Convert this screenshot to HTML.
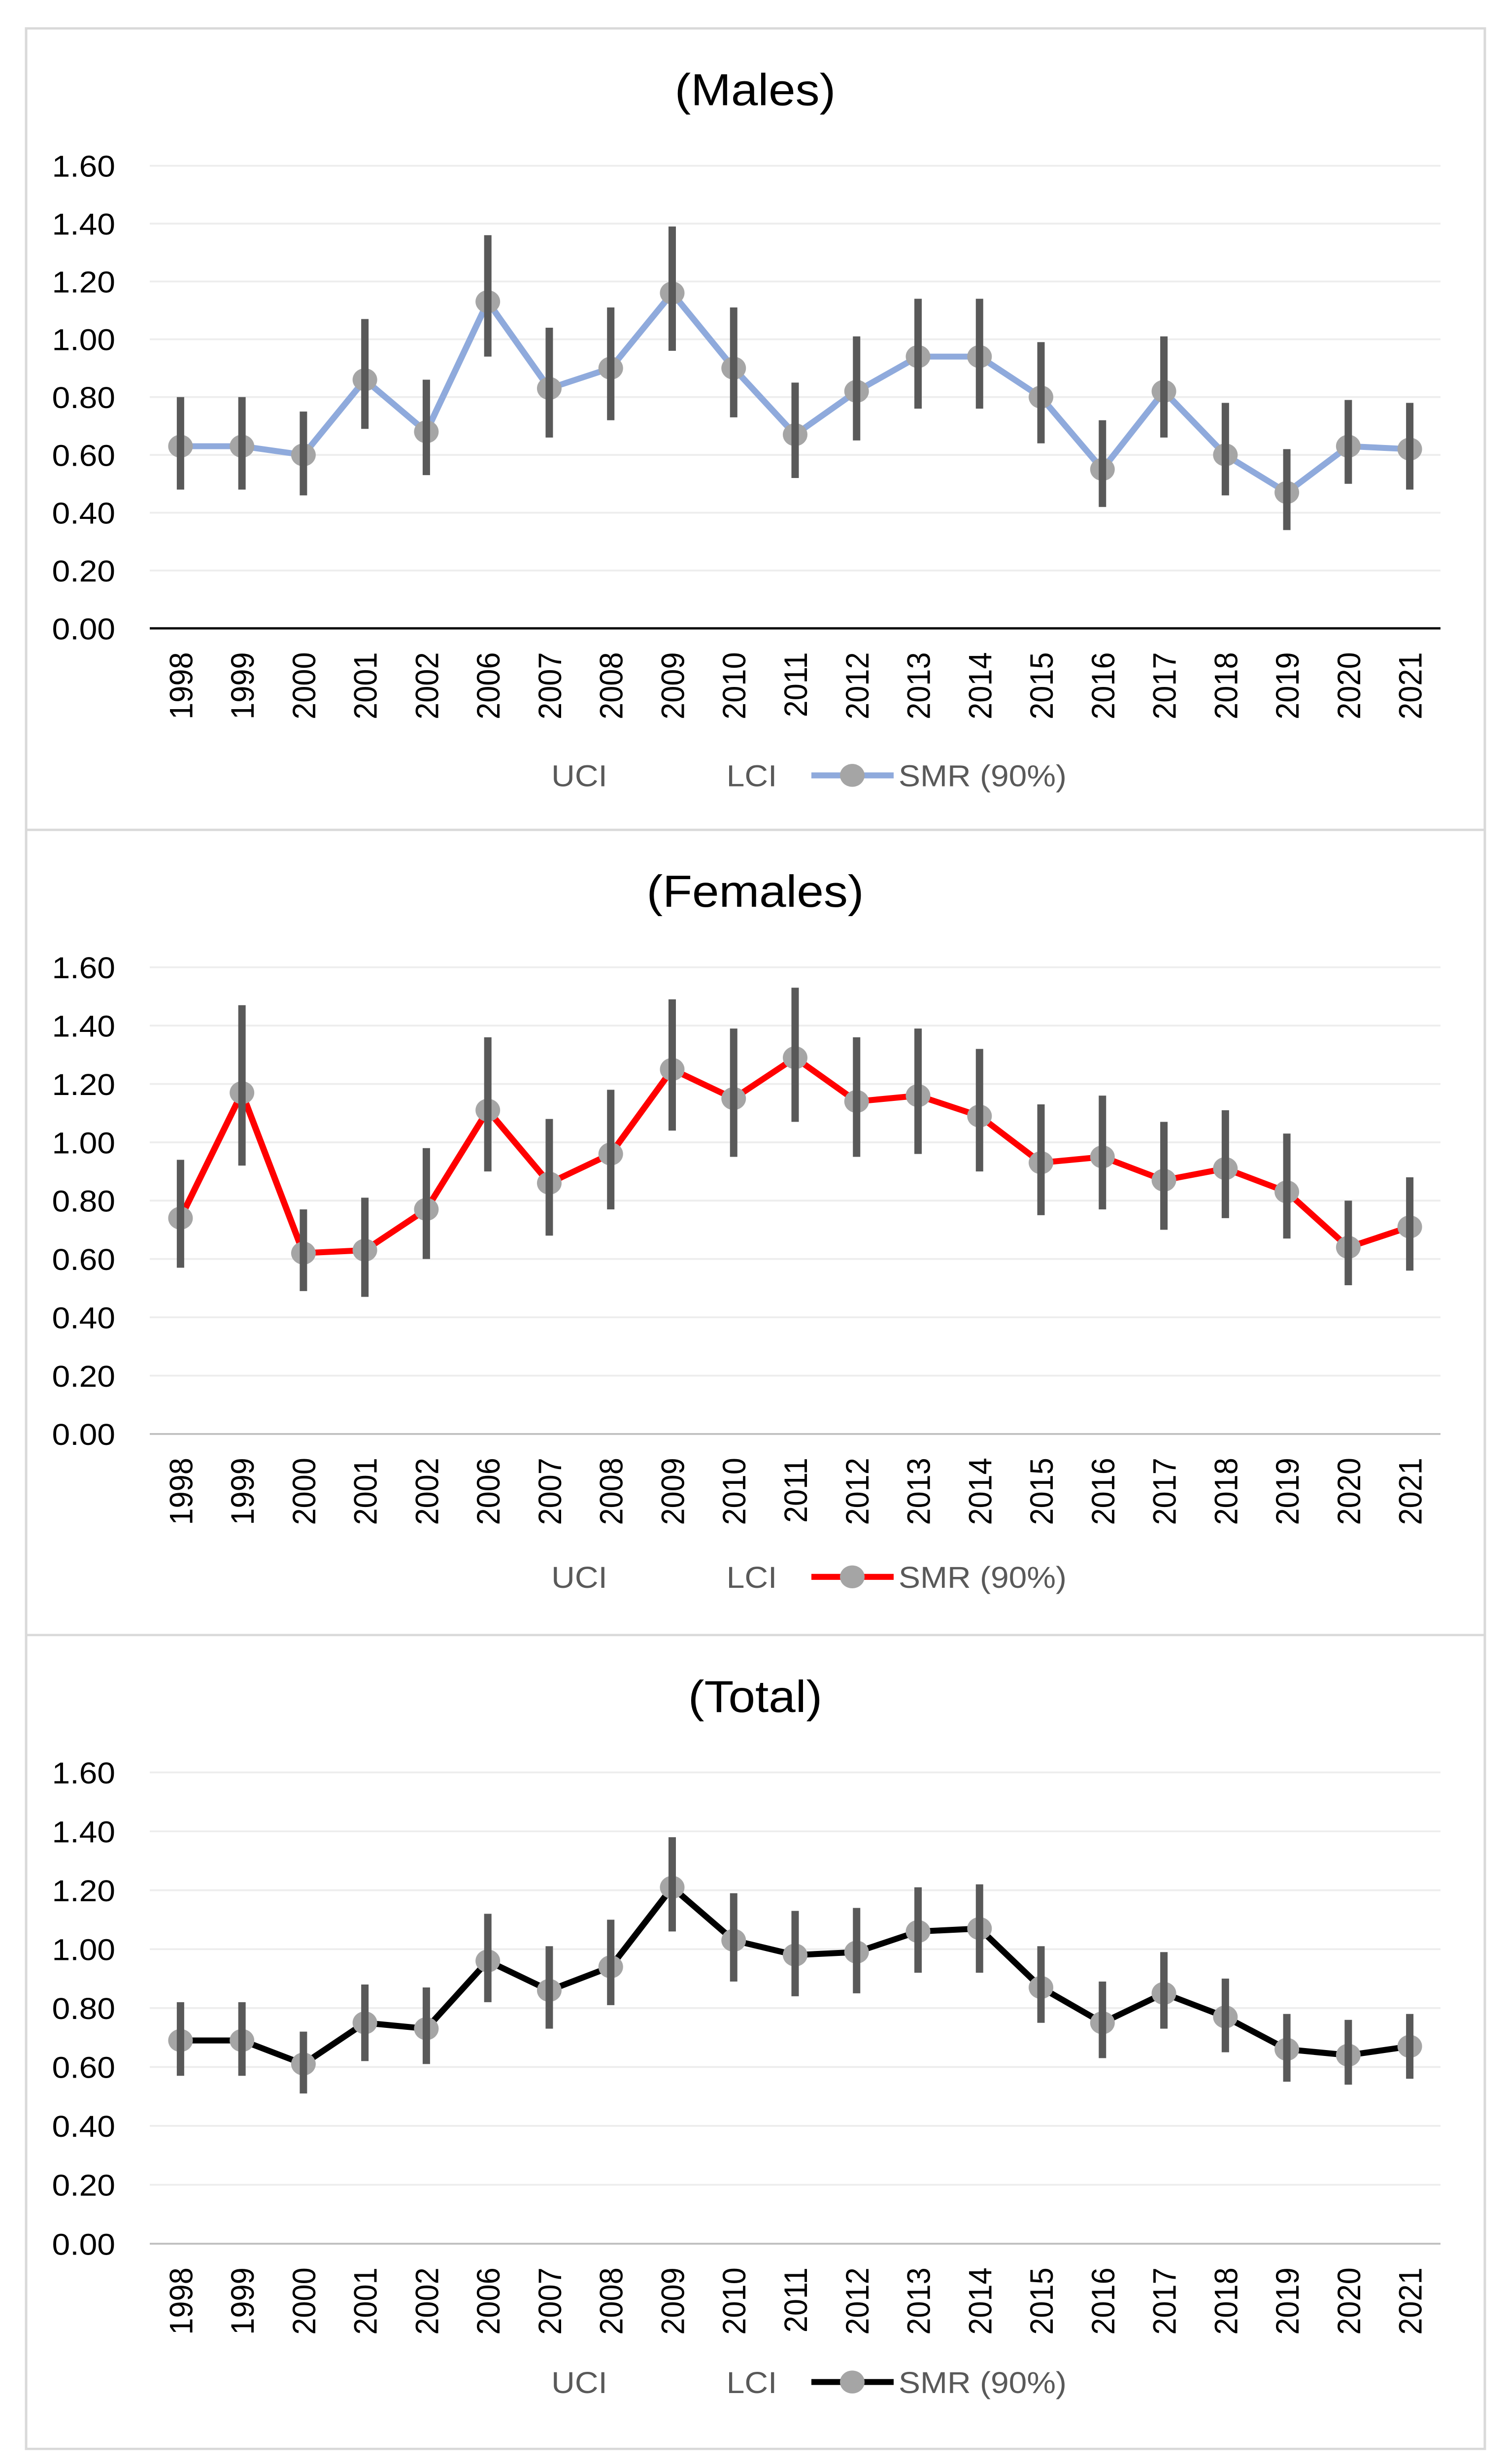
<!DOCTYPE html>
<html><head><meta charset="utf-8"><style>
html,body{margin:0;padding:0;background:#fff;width:100%;height:100%;overflow:hidden;}
svg{display:block;width:100vw;height:100vh;font-family:"Liberation Sans",sans-serif;}
</style></head><body>
<svg id="chart" viewBox="0 0 3059 5380" preserveAspectRatio="none" xmlns="http://www.w3.org/2000/svg"></svg>
<script>
const years = ['1998','1999','2000','2001','2002','2006','2007','2008','2009','2010','2011','2012','2013','2014','2015','2016','2017','2018','2019','2020','2021'];
const yTicks = [0,0.2,0.4,0.6,0.8,1.0,1.2,1.4,1.6];
const malesSMR = [0.63,0.63,0.60,0.86,0.68,1.13,0.83,0.90,1.16,0.90,0.67,0.82,0.94,0.94,0.80,0.55,0.82,0.60,0.47,0.63,0.62];
const malesUCI = [0.80,0.80,0.75,1.07,0.86,1.36,1.04,1.11,1.39,1.11,0.85,1.01,1.14,1.14,0.99,0.72,1.01,0.78,0.62,0.79,0.78];
const malesLCI = [0.48,0.48,0.46,0.69,0.53,0.94,0.66,0.72,0.96,0.73,0.52,0.65,0.76,0.76,0.64,0.42,0.66,0.46,0.34,0.50,0.48];
const femalesSMR = [0.74,1.17,0.62,0.63,0.77,1.11,0.86,0.96,1.25,1.15,1.29,1.14,1.16,1.09,0.93,0.95,0.87,0.91,0.83,0.64,0.71];
const femalesUCI = [0.94,1.47,0.77,0.81,0.98,1.36,1.08,1.18,1.49,1.39,1.53,1.36,1.39,1.32,1.13,1.16,1.07,1.11,1.03,0.80,0.88];
const femalesLCI = [0.57,0.92,0.49,0.47,0.60,0.90,0.68,0.77,1.04,0.95,1.07,0.95,0.96,0.90,0.75,0.77,0.70,0.74,0.67,0.51,0.56];
const totalSMR = [0.69,0.69,0.61,0.75,0.73,0.96,0.86,0.94,1.21,1.03,0.98,0.99,1.06,1.07,0.87,0.75,0.85,0.77,0.66,0.64,0.67];
const totalUCI = [0.82,0.82,0.72,0.88,0.87,1.12,1.01,1.10,1.38,1.19,1.13,1.14,1.21,1.22,1.01,0.89,0.99,0.90,0.78,0.76,0.78];
const totalLCI = [0.57,0.57,0.51,0.62,0.61,0.82,0.73,0.81,1.06,0.89,0.84,0.85,0.92,0.92,0.75,0.63,0.73,0.65,0.55,0.54,0.56];

const NS = 'http://www.w3.org/2000/svg';
const svg = document.getElementById('chart');
function mk(tag, attrs, parent){
  const e = document.createElementNS(NS, tag);
  for (const k in attrs) e.setAttribute(k, attrs[k]);
  (parent||svg).appendChild(e);
  return e;
}
const panels = [
  {title:'(Males)', key:'males', top:62, bottom:1812, color:'#8faadc', axis:'#000000', axisW:5, smr:malesSMR, uci:malesUCI, lci:malesLCI},
  {title:'(Females)', key:'females', top:1812, bottom:3570, color:'#ff0000', axis:'#bfbfbf', axisW:4, smr:femalesSMR, uci:femalesUCI, lci:femalesLCI},
  {title:'(Total)', key:'total', top:3570, bottom:5347, color:'#000000', axis:'#bfbfbf', axisW:4, smr:totalSMR, uci:totalUCI, lci:totalLCI}
];
const plotL = 304, plotR = 2924;
const xStep = (plotR - plotL) / years.length;
function xPos(i){ return plotL + xStep * (i + 0.5); }

panels.forEach(p => {
  const g = mk('g', {});
  
  
  const frame = mk('rect', {x:53, y:p.top, width:2961, height:p.bottom-p.top, fill:'#fff', stroke:'#d9d9d9', 'stroke-width':5}, g);
  
  
  const title = mk('text', {x:1533, y:p.top+168, 'text-anchor':'middle', 'font-size':98, fill:'#000'}, g);
  title.textContent = p.title;
  
  
  const y16 = p.top + 300;
  const y0 = p.top + (p.key === 'males' ? 1310 : (p.key === 'females' ? 1319 : 1329));
  const yPos = v => y0 - (v / 1.6) * (y0 - y16);
  yTicks.forEach(t => {
    if (t > 0) {
      const gl = mk('line', {x1:plotL, x2:plotR, y1:yPos(t), y2:yPos(t), stroke:'#ededed', 'stroke-width':4}, g);
      
      
    }
    const tl = mk('text', {x:234, y:yPos(t)+24, 'text-anchor':'end', 'font-size':66, fill:'#000'}, g);
    tl.textContent = t.toFixed(2);
    
    
  });
  const ax = mk('line', {x1:plotL, x2:plotR, y1:y0, y2:y0, stroke:p.axis, 'stroke-width':p.axisW}, g);
  
  
  years.forEach((yr, i) => {
    const x = xPos(i) + 24, y = y0 + 52;
    const tl = mk('text', {x:x, y:y, 'text-anchor':'end', 'font-size':66, fill:'#000', transform:'rotate(-90 '+x+' '+y+')'}, g);
    tl.textContent = yr;
    
    
  });
  const pts = p.smr.map((v, i) => xPos(i) + ',' + yPos(v)).join(' ');
  const line = mk('polyline', {points:pts, fill:'none', stroke:p.color, 'stroke-width':13, 'stroke-linejoin':'round'}, g);
  
  
  p.smr.forEach((v, i) => {
    const c = mk('circle', {cx:xPos(i), cy:yPos(v), r:25, fill:'#a5a5a5'}, g);
    
    
  });
  p.uci.forEach((u, i) => {
    const b = mk('line', {x1:xPos(i), x2:xPos(i), y1:yPos(u), y2:yPos(p.lci[i]), stroke:'#595959', 'stroke-width':15}, g);
    
    
  });
  const ly = p.top + 1631;
  const l1 = mk('text', {x:1176, y:ly+24, 'text-anchor':'middle', 'font-size':66, fill:'#595959'}, g);
  l1.textContent = 'UCI';
  
  
  const l2 = mk('text', {x:1526, y:ly+24, 'text-anchor':'middle', 'font-size':66, fill:'#595959'}, g);
  l2.textContent = 'LCI';
  
  
  const ll = mk('line', {x1:1647, x2:1814, y1:ly, y2:ly, stroke:p.color, 'stroke-width':13}, g);
  
  
  const lc = mk('circle', {cx:1730, cy:ly, r:25, fill:'#a5a5a5'}, g);
  
  
  const l3 = mk('text', {x:1824, y:ly+24, 'text-anchor':'start', 'font-size':66, fill:'#595959'}, g);
  l3.textContent = 'SMR (90%)';
  
  
});
</script>
</body></html>
